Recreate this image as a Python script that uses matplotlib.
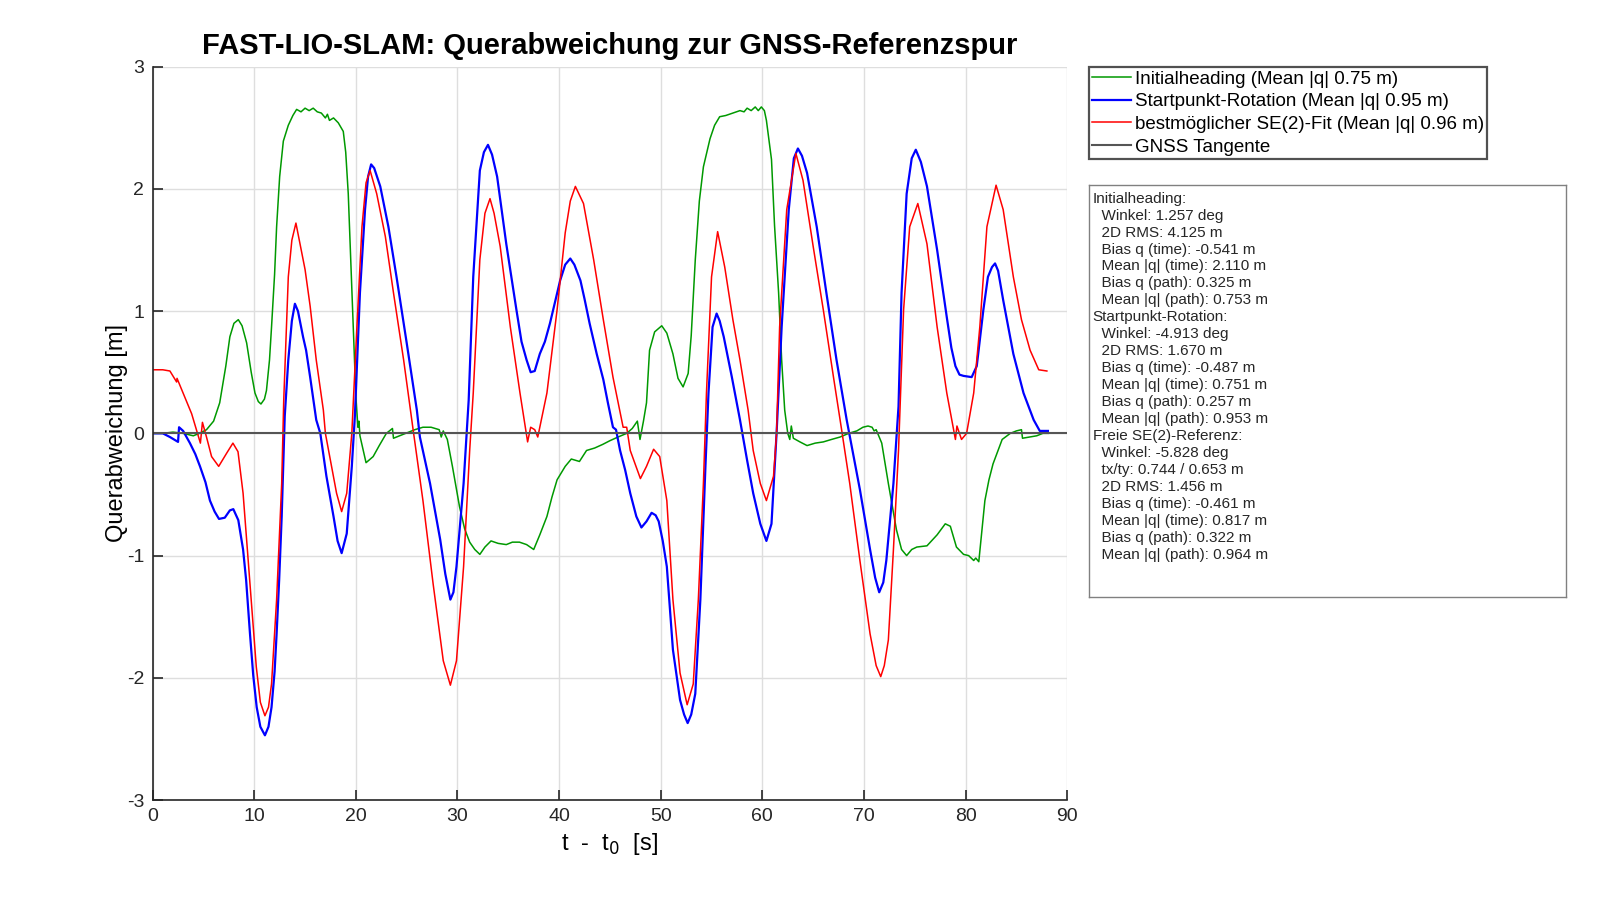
import numpy as np
import matplotlib
matplotlib.use("Agg")
from matplotlib import pyplot as plt

plt.rcParams['font.family'] = ['Liberation Sans', 'DejaVu Sans']
plt.rcParams['axes.unicode_minus'] = False

# Initialheading (green)
t_init = [0, 1, 2, 3, 4, 4.6, 5.3, 6.0, 6.6, 7.2, 7.6, 8.0, 8.43, 8.8, 9.25, 9.7, 10.07, 10.4, 10.66, 11.0,
          11.2, 11.5, 11.7, 12.0, 12.2, 12.5, 12.86, 13.35, 13.8, 14.17, 14.6, 15.0, 15.4, 15.8, 16.2, 16.6,
          17.0, 17.2, 17.4, 17.8, 18.27, 18.76, 19.0, 19.25, 19.5, 19.74, 20.0, 20.2, 20.3, 20.4, 21.0, 21.7,
          22.3, 23.0, 23.6, 23.7, 24.9, 25.8, 26.6, 27.4, 28.2, 28.4, 28.6, 29.0, 29.5, 30.2, 30.7, 31.2,
          31.7, 32.2, 32.7, 33.3, 34.0, 34.8, 35.4, 36.1, 36.8, 37.5, 38.1, 38.8, 39.3, 39.8, 40.6, 41.2,
          42.0, 42.7, 43.5, 44.3, 45.0, 45.8, 46.65, 47.2, 47.7, 47.96, 48.3, 48.6, 48.9, 49.4, 50.1, 50.6,
          51.2, 51.7, 52.2, 52.7, 53.0, 53.4, 53.8, 54.2, 54.85, 55.3, 55.8, 56.4, 57.1, 57.8, 58.2, 58.5,
          58.9, 59.3, 59.6, 59.9, 60.2, 60.4, 60.9, 61.2, 61.6, 61.9, 62.2, 62.5, 62.7, 62.85, 63.05, 63.7,
          64.4, 65.2, 66.0, 66.8, 67.65, 68.5, 69.3, 69.9, 70.4, 70.8, 71.0, 71.2, 71.75, 72.4, 73.2, 73.7,
          74.2, 74.7, 75.2, 76.2, 77.2, 78.0, 78.5, 79.1, 79.8, 80.3, 80.8, 81.0, 81.3, 81.6, 81.9, 82.3,
          82.7, 83.6, 84.4, 85.0, 85.5, 85.6, 86.3, 87.0, 87.6, 88.15]
q_init = [0, 0, 0.01, 0.0, -0.02, 0.0, 0.03, 0.1, 0.25, 0.55, 0.79, 0.9, 0.93, 0.88, 0.74, 0.5, 0.33, 0.26, 0.24, 0.28,
          0.35, 0.6, 0.87, 1.3, 1.69, 2.1, 2.39, 2.52, 2.6, 2.65, 2.63, 2.66, 2.64, 2.66, 2.63, 2.62,
          2.58, 2.61, 2.56, 2.58, 2.54, 2.47, 2.3, 1.96, 1.4, 0.87, 0.3, 0.05, 0.1, -0.02, -0.24, -0.19,
          -0.1, 0.0, 0.04, -0.04, 0.0, 0.03, 0.05, 0.05, 0.03, -0.03, 0.02, -0.05, -0.27, -0.6, -0.78, -0.89,
          -0.95, -0.99, -0.93, -0.88, -0.9, -0.91, -0.89, -0.89, -0.91, -0.95, -0.83, -0.68, -0.52, -0.38, -0.27, -0.21,
          -0.23, -0.14, -0.12, -0.09, -0.06, -0.03, 0.0, 0.04, 0.1, -0.05, 0.1, 0.25, 0.68, 0.83, 0.88, 0.82,
          0.65, 0.45, 0.38, 0.49, 0.8, 1.42, 1.9, 2.18, 2.41, 2.52, 2.59, 2.6, 2.62, 2.64, 2.63, 2.66,
          2.64, 2.67, 2.64, 2.67, 2.64, 2.56, 2.24, 1.7, 1.15, 0.6, 0.19, 0.0, -0.05, 0.06, -0.04, -0.07,
          -0.1, -0.08, -0.07, -0.05, -0.03, 0.0, 0.02, 0.05, 0.06, 0.05, 0.02, 0.03, -0.08, -0.41, -0.79, -0.95,
          -1.0, -0.95, -0.93, -0.92, -0.83, -0.74, -0.76, -0.93, -0.99, -1.0, -1.04, -1.02, -1.05, -0.8, -0.55, -0.38,
          -0.25, -0.05, 0.0, 0.02, 0.03, -0.04, -0.03, -0.02, 0.0, 0.0]

# Startpunkt-Rotation (blue)
t_start = [0, 1, 1.7, 2.5, 2.6, 3.0, 3.67, 4.2, 4.66, 5.2, 5.64, 6.1, 6.53, 7.1, 7.6, 7.94, 8.43, 8.9, 9.2, 9.58,
           9.9, 10.24, 10.6, 11.05, 11.4, 11.7, 12.0, 12.2, 12.45, 12.7, 13.0, 13.35, 13.7, 14.0, 14.3, 14.8,
           15.1, 15.5, 16.1, 16.5, 17.1, 17.8, 18.2, 18.6, 19.1, 19.6, 19.9, 20.4, 20.9, 21.2, 21.5, 21.8,
           22.4, 23.2, 24.0, 25.0, 26.0, 26.3, 27.3, 28.3, 28.8, 29.3, 29.6, 29.9, 30.2, 30.6, 31.1, 31.55,
           32.2, 32.6, 33.0, 33.4, 33.9, 34.8, 35.8, 36.3, 36.8, 37.2, 37.6, 38.1, 38.6, 39.1, 40.1, 40.6,
           41.1, 41.5, 42.1, 42.5, 43.0, 43.7, 44.35, 44.8, 45.3, 45.6, 46.0, 46.5, 47.0, 47.6, 48.1, 48.6,
           49.1, 49.5, 49.8, 50.2, 50.6, 51.2, 51.9, 52.3, 52.65, 53.0, 53.4, 53.9, 54.4, 54.7, 55.1, 55.5,
           55.8, 56.2, 57.0, 57.8, 58.5, 59.1, 59.8, 60.4, 60.9, 61.4, 61.9, 62.6, 63.1, 63.5, 63.9, 64.4,
           65.35, 66.3, 67.3, 68.3, 68.8, 69.6, 70.6, 71.1, 71.5, 71.9, 72.2, 72.9, 73.4, 73.7, 74.2, 74.7,
           75.1, 75.6, 76.2, 77.2, 78.15, 78.6, 79.0, 79.4, 79.8, 80.6, 81.1, 81.75, 82.2, 82.6, 82.9, 83.2,
           83.7, 84.7, 85.7, 86.7, 87.3, 88.1]
q_start = [0, 0, -0.03, -0.07, 0.05, 0.02, -0.08, -0.17, -0.27, -0.4, -0.55, -0.64, -0.7, -0.69, -0.63, -0.62, -0.71, -0.95, -1.2, -1.64,
           -1.98, -2.24, -2.4, -2.47, -2.4, -2.24, -1.95, -1.64, -1.2, -0.68, 0.14, 0.6, 0.92, 1.06, 1.0, 0.79,
           0.68, 0.46, 0.11, 0.0, -0.35, -0.68, -0.88, -0.98, -0.82, -0.27, 0.14, 1.15, 1.83, 2.1, 2.2, 2.17,
           2.02, 1.69, 1.28, 0.74, 0.19, -0.03, -0.41, -0.87, -1.15, -1.36, -1.3, -1.09, -0.8, -0.41, 0.27, 1.28,
           2.15, 2.3, 2.36, 2.28, 2.1, 1.55, 1.01, 0.75, 0.6, 0.5, 0.51, 0.65, 0.75, 0.9, 1.25, 1.38,
           1.43, 1.38, 1.25, 1.1, 0.9, 0.65, 0.44, 0.25, 0.05, 0.03, -0.14, -0.3, -0.49, -0.68, -0.77, -0.72,
           -0.65, -0.67, -0.72, -0.88, -1.09, -1.77, -2.18, -2.3, -2.37, -2.3, -2.13, -1.36, -0.27, 0.33, 0.87, 0.98,
           0.92, 0.79, 0.46, 0.11, -0.22, -0.49, -0.74, -0.88, -0.74, 0.0, 0.87, 1.83, 2.25, 2.33, 2.27, 2.13,
           1.69, 1.15, 0.6, 0.11, -0.11, -0.46, -0.95, -1.18, -1.3, -1.22, -1.04, -0.41, 0.22, 1.15, 1.96, 2.25,
           2.32, 2.22, 2.02, 1.5, 0.95, 0.7, 0.55, 0.48, 0.47, 0.46, 0.55, 1.01, 1.28, 1.36, 1.39, 1.33,
           1.09, 0.65, 0.33, 0.11, 0.02, 0.02]

# bestmoeglicher SE(2)-Fit (red)
t_se2 = [0, 1.0, 1.7, 2.36, 2.4, 3.0, 3.84, 4.3, 4.7, 4.9, 5.3, 5.8, 6.5, 7.3, 7.9, 8.4, 8.9, 9.58, 10.2, 10.6,
         11.05, 11.4, 11.7, 12.2, 12.7, 12.9, 13.35, 13.7, 14.1, 14.5, 15.0, 15.5, 16.1, 16.8, 17.0, 17.6,
         18.1, 18.6, 19.1, 19.6, 20.1, 20.6, 21.0, 21.4, 22.05, 22.9, 23.7, 24.7, 25.6, 26.6, 27.6, 28.6,
         29.3, 29.9, 30.6, 31.2, 31.55, 32.2, 32.7, 33.2, 33.6, 34.2, 35.2, 36.15, 36.9, 37.2, 37.6, 37.9,
         38.8, 39.8, 40.6, 41.1, 41.6, 42.4, 43.4, 44.35, 45.3, 46.3, 46.65, 47.0, 48.0, 48.6, 49.3, 49.9,
         50.6, 51.2, 51.9, 52.6, 53.2, 53.7, 54.2, 54.5, 55.0, 55.6, 56.3, 57.1, 57.8, 58.6, 59.1, 59.8,
         60.4, 61.1, 61.4, 61.7, 62.4, 63.3, 64.0, 65.0, 66.0, 67.0, 67.8, 68.6, 69.6, 70.6, 71.2, 71.65,
         72.0, 72.4, 72.9, 73.4, 73.9, 74.5, 75.3, 76.2, 77.2, 78.15, 79.0, 79.15, 79.6, 80.1, 80.8, 81.4,
         82.1, 83.0, 83.7, 84.7, 85.5, 86.35, 87.2, 88.0]
q_se2 = [0.52, 0.52, 0.51, 0.42, 0.45, 0.33, 0.16, 0.03, -0.08, 0.09, -0.03, -0.19, -0.27, -0.16, -0.08, -0.15, -0.49, -1.23, -1.91, -2.2,
         -2.31, -2.24, -2.05, -1.36, -0.41, 0.27, 1.28, 1.58, 1.72, 1.55, 1.34, 1.04, 0.6, 0.19, 0.0, -0.27,
         -0.49, -0.64, -0.49, 0.0, 0.87, 1.69, 2.05, 2.15, 1.96, 1.61, 1.15, 0.6, 0.05, -0.55, -1.23, -1.86,
         -2.06, -1.86, -1.09, -0.14, 0.33, 1.42, 1.8, 1.92, 1.8, 1.53, 0.87, 0.33, -0.07, 0.05, 0.03, -0.03,
         0.33, 1.01, 1.64, 1.9, 2.02, 1.88, 1.42, 0.93, 0.46, 0.05, 0.05, -0.14, -0.37, -0.27, -0.13, -0.19,
         -0.55, -1.36, -1.96, -2.22, -2.05, -1.36, -0.41, 0.33, 1.28, 1.65, 1.36, 0.93, 0.6, 0.19, -0.14, -0.41,
         -0.55, -0.35, 0.0, 0.87, 1.83, 2.29, 2.07, 1.53, 1.01, 0.46, 0.03, -0.41, -1.04, -1.64, -1.9, -1.99,
         -1.9, -1.69, -0.95, -0.14, 1.01, 1.69, 1.88, 1.55, 0.87, 0.33, -0.05, 0.06, -0.05, 0.0, 0.33, 0.87,
         1.69, 2.03, 1.83, 1.28, 0.93, 0.68, 0.52, 0.51]

labels = ['Initialheading (Mean |q| 0.75 m)',
          'Startpunkt-Rotation (Mean |q| 0.95 m)',
          'bestmöglicher SE(2)-Fit (Mean |q| 0.96 m)',
          'GNSS Tangente']

stats_text = ("Initialheading:\n"
              "  Winkel: 1.257 deg\n"
              "  2D RMS: 4.125 m\n"
              "  Bias q (time): -0.541 m\n"
              "  Mean |q| (time): 2.110 m\n"
              "  Bias q (path): 0.325 m\n"
              "  Mean |q| (path): 0.753 m\n"
              "Startpunkt-Rotation:\n"
              "  Winkel: -4.913 deg\n"
              "  2D RMS: 1.670 m\n"
              "  Bias q (time): -0.487 m\n"
              "  Mean |q| (time): 0.751 m\n"
              "  Bias q (path): 0.257 m\n"
              "  Mean |q| (path): 0.953 m\n"
              "Freie SE(2)-Referenz:\n"
              "  Winkel: -5.828 deg\n"
              "  tx/ty: 0.744 / 0.653 m\n"
              "  2D RMS: 1.456 m\n"
              "  Bias q (time): -0.461 m\n"
              "  Mean |q| (time): 0.817 m\n"
              "  Bias q (path): 0.322 m\n"
              "  Mean |q| (path): 0.964 m")

fig = plt.figure(figsize=(16, 9), dpi=100)
ax = fig.add_axes([0.0954, 0.111, 0.5716, 0.815])

ax.plot(t_init, q_init, color='#009900', lw=1.1, label=labels[0])
ax.plot(t_start, q_start, color='#0000ff', lw=1.6, label=labels[1])
ax.plot(t_se2, q_se2, color='#ff0000', lw=1.1, label=labels[2])
ax.axhline(0, color='#555555', lw=1.5, label=labels[3])

ax.set_xlim(0, 90)
ax.set_ylim(-3, 3)
ax.set_xticks(np.arange(0, 91, 10))
ax.set_yticks(np.arange(-3, 4, 1))
ax.grid(True, color='#dedede', lw=1)
ax.set_axisbelow(True)
for s in ['top', 'right']:
    ax.spines[s].set_visible(False)
for s in ['left', 'bottom']:
    ax.spines[s].set_color('#262626')
    ax.spines[s].set_linewidth(1.2)
ax.tick_params(direction='in', length=7, width=1.2, colors='#262626', labelsize=14, pad=6)

ax.set_title('FAST-LIO-SLAM: Querabweichung zur GNSS-Referenzspur', fontsize=21, fontweight='bold', pad=9)
ax.set_xlabel(r't  -  t$_0$  [s]', fontsize=17, labelpad=4)
ax.set_ylabel('Querabweichung [m]', fontsize=17, labelpad=-1)

leg = fig.legend(loc='upper left', bbox_to_anchor=(1089/1600, 1 - 67/900), fontsize=13.5,
                 frameon=True, fancybox=False, edgecolor='#262626', handlelength=2.05,
                 handletextpad=0.2, borderpad=0.18, labelspacing=0.3, borderaxespad=0)
leg.get_frame().set_linewidth(1.6)

# statistics box
tb = fig.add_axes([1089/1600, 1 - 597/900, (1566 - 1089)/1600, (597 - 185)/900])
tb.set_xticks([])
tb.set_yticks([])
for s in tb.spines.values():
    s.set_color('#808080')
    s.set_linewidth(1.0)
tb.text(0.008, 0.984, stats_text, transform=tb.transAxes, ha='left', va='top',
        fontsize=11, linespacing=1.27, color='#262626')

fig.savefig('out.png', dpi=100)
